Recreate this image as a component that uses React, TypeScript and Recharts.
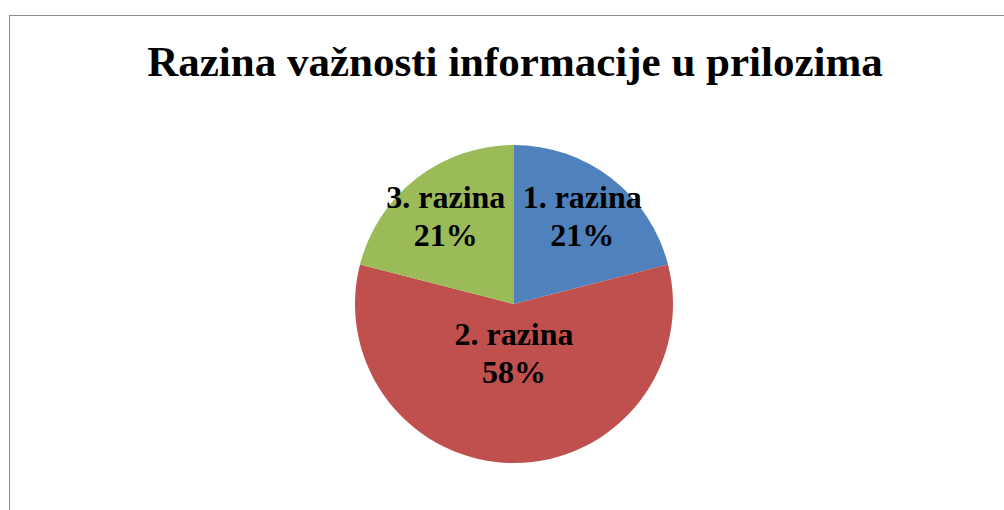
import { PieChart, Pie, Cell } from "recharts";

const title = "Razina važnosti informacije u prilozima";
const levels = ["1. razina", "2. razina", "3. razina"];
const shares = [21, 58, 21];
const colors = ["#4F81BD", "#C0504D", "#9BBB59"];

const data = levels.map((name, i) => ({ name, value: shares[i] }));

const RADIAN = Math.PI / 180;
const font = '"Liberation Serif", "Times New Roman", serif';

function renderLabel(props: any) {
  const { cx, cy, midAngle, outerRadius, percent, name } = props;
  // the big slice keeps its label closer to the centre
  const r = outerRadius * (percent > 0.5 ? 0.31 : 0.7);
  const x = cx + r * Math.cos(-midAngle * RADIAN);
  const y = cy + r * Math.sin(-midAngle * RADIAN);
  return (
    <text
      x={x}
      y={y}
      textAnchor="middle"
      fontFamily={font}
      fontWeight="bold"
      fontSize={32}
      fill="#000"
    >
      <tspan x={x} y={y - 8}>
        {name}
      </tspan>
      <tspan x={x} y={y + 30}>
        {Math.round(percent * 100)}%
      </tspan>
    </text>
  );
}

export default function App() {
  return (
    <div
      style={{
        position: "absolute",
        left: 0,
        top: 0,
        width: 1004,
        height: 510,
        overflow: "hidden",
        background: "#fff",
      }}
    >
      <div
        style={{
          position: "absolute",
          left: 9,
          top: 15,
          width: 1100,
          height: 600,
          border: "1px solid #8c8c8c",
          boxSizing: "border-box",
        }}
      />
      <div style={{ position: "absolute", left: 0, top: 0 }}>
        <PieChart
          width={1004}
          height={510}
          margin={{ top: 0, right: 0, bottom: 0, left: 0 }}
        >
          <Pie
            data={data}
            dataKey="value"
            nameKey="name"
            cx={514}
            cy={304}
            outerRadius={159}
            startAngle={90}
            endAngle={-270}
            stroke="none"
            labelLine={false}
            label={renderLabel}
            isAnimationActive={false}
          >
            {data.map((d, i) => (
              <Cell key={d.name} fill={colors[i]} />
            ))}
          </Pie>
        </PieChart>
      </div>
      <svg
        width={1004}
        height={510}
        style={{ position: "absolute", left: 0, top: 0, pointerEvents: "none" }}
      >
        <text
          x={515}
          y={76}
          textAnchor="middle"
          fontFamily={font}
          fontWeight="bold"
          fontSize={43}
          fill="#000"
        >
          {title}
        </text>
      </svg>
    </div>
  );
}
